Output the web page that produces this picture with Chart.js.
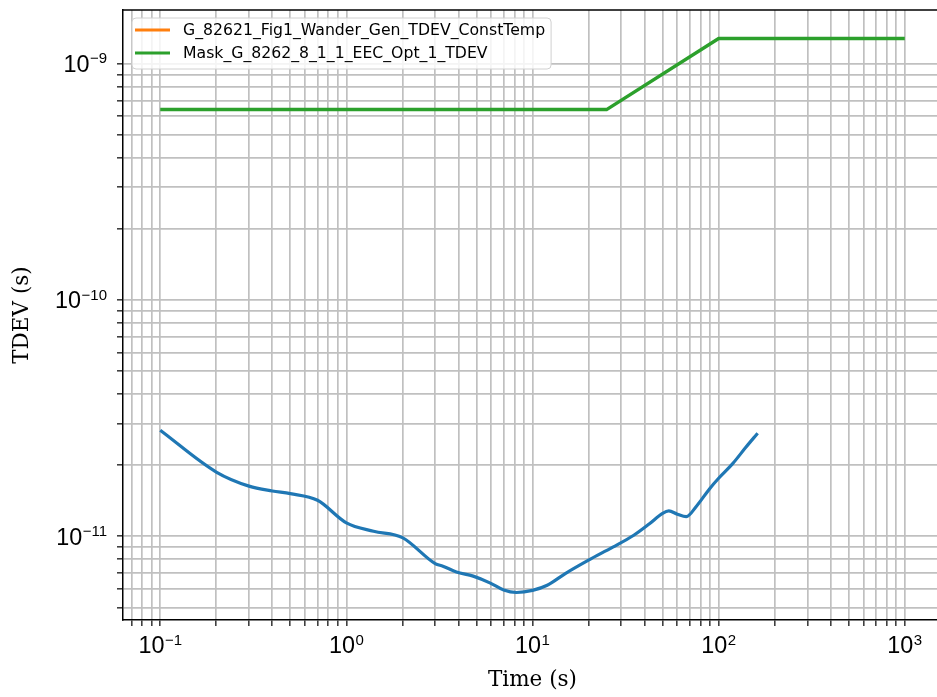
<!DOCTYPE html>
<html><head><meta charset="utf-8">
<script src="https://cdn.jsdelivr.net/npm/chart.js@4"></script>
<style>
html,body{margin:0;padding:0;background:#fff;overflow:hidden;width:937px;height:697px}
#wrap{position:absolute;left:0;top:0;width:1000px;height:697px}
</style>
</head><body>
<div id="wrap"><canvas id="c" width="1000" height="697"></canvas></div>
<script>
// ---- data ----
const tdevTau = [0.1, 0.2, 0.3, 0.4, 0.5, 0.7, 1.0, 1.4, 2.0, 3.0, 3.3, 3.9, 4.8, 5.9, 7.0, 8.2, 10, 12, 15, 20, 27, 35, 42.5, 50, 54, 60, 67, 76, 89.5, 100, 119, 140, 162];
const tdevValues = [2.81e-11, 1.87e-11, 1.63e-11, 1.555e-11, 1.515e-11, 1.42e-11, 1.14e-11, 1.05e-11, 9.87e-12, 7.66e-12, 7.47e-12, 7.06e-12, 6.78e-12, 6.35e-12, 5.92e-12, 5.78e-12, 5.9e-12, 6.2e-12, 6.95e-12, 7.92e-12, 8.99e-12, 1.01e-11, 1.13e-11, 1.25e-11, 1.28e-11, 1.24e-11, 1.21e-11, 1.34e-11, 1.59e-11, 1.76e-11, 2.03e-11, 2.38e-11, 2.73e-11];
const constTempTau = [];
const constTempValues = [];
const maskTau = [0.1, 25, 100, 1000];
const maskValues = [0.64e-9, 0.64e-9, 1.28e-9, 1.28e-9];
const seriesLabels = ['G_82621_Fig1_Wander_Gen_TDEV_ConstTemp', 'Mask_G_8262_8_1_1_EEC_Opt_1_TDEV'];
const xTickExponents = [-1, 0, 1, 2, 3];
const yTickExponents = [-11, -10, -9];
const xTitle = 'Time (s)';
const yTitle = 'TDEV (s)';

const xLimits = [Math.pow(10, -1.2), Math.pow(10, 3.2)];
const yLimits = [4.42e-12, 1.69e-9];

function pts(xs, ys) { return xs.map((x, i) => ({x: x, y: ys[i]})); }

function logTicks(min, max) {
  const out = [];
  const e0 = Math.floor(Math.log10(min)), e1 = Math.ceil(Math.log10(max));
  for (let e = e0; e <= e1; e++) {
    for (let k = 1; k <= 9; k++) {
      const v = Number(k + 'e' + e);
      if (v >= min && v <= max) out.push({value: v, major: k === 1});
    }
  }
  return out;
}

const GRID = '#c0c0c0';

const decor = {
  id: 'decor',
  afterDraw(chart) {
    const ctx = chart.ctx, ca = chart.chartArea;
    const xs = chart.scales.x, ys = chart.scales.y;
    ctx.save();
    ctx.strokeStyle = '#000'; ctx.lineWidth = 1.5;
    ctx.beginPath(); ctx.moveTo(ca.left, ca.top); ctx.lineTo(ca.right, ca.top); ctx.stroke();

    const baseFont = '23.4px "Liberation Sans", Arial, sans-serif';
    const expFont = '15px "Liberation Sans", Arial, sans-serif';
    ctx.fillStyle = '#000';
    ctx.textBaseline = 'alphabetic';
    function measure(e) {
      ctx.font = baseFont; const w1 = ctx.measureText('10').width;
      ctx.font = expFont; const w2 = ctx.measureText(String(e).replace('-', '\u2212')).width;
      return [w1, w2];
    }
    function drawLabel(e, left, cy) {
      const [w1] = measure(e);
      ctx.font = baseFont; ctx.textAlign = 'left';
      ctx.fillText('10', left, cy + 8.4);
      ctx.font = expFont;
      ctx.fillText(String(e).replace('-', '\u2212'), left + w1 + 0.5, cy - 0.5);
    }
    xTickExponents.forEach(e => {
      const px = xs.getPixelForValue(Math.pow(10, e));
      const [w1, w2] = measure(e);
      drawLabel(e, px - (w1 + w2 + 0.5) / 2, 645);
    });
    yTickExponents.forEach(e => {
      const py = ys.getPixelForValue(Math.pow(10, e));
      const [w1, w2] = measure(e);
      drawLabel(e, 107 - (w1 + w2 + 0.5), py);
    });

    // legend
    const lx = ca.left + 9, ly = ca.top + 8;
    ctx.font = '15.7px "DejaVu Sans", sans-serif';
    let tw = 0;
    seriesLabels.forEach(s => { tw = Math.max(tw, ctx.measureText(s).width); });
    const bw = (183 - 132) + tw + 6, bh = 51;
    ctx.beginPath();
    if (ctx.roundRect) ctx.roundRect(lx, ly, bw, bh, 4); else ctx.rect(lx, ly, bw, bh);
    ctx.fillStyle = 'rgba(255,255,255,0.82)'; ctx.fill();
    ctx.strokeStyle = '#d0d0d0'; ctx.lineWidth = 1; ctx.stroke();
    const legendDs = [chart.data.datasets[1], chart.data.datasets[2]];
    legendDs.forEach((ds, i) => {
      const y = ly + 12 + i * 23;
      ctx.strokeStyle = ds.borderColor; ctx.lineWidth = 3;
      ctx.beginPath(); ctx.moveTo(lx + 3, y); ctx.lineTo(lx + 38, y); ctx.stroke();
      ctx.fillStyle = '#000'; ctx.textAlign = 'left'; ctx.textBaseline = 'middle';
      ctx.fillText(ds.label, lx + 51, y + 1);
    });
    ctx.restore();
  }
};

new Chart(document.getElementById('c'), {
  type: 'line',
  data: {
    datasets: [
      { label: '', data: pts(tdevTau, tdevValues), borderColor: '#1f77b4', borderWidth: 3.2, pointRadius: 0, cubicInterpolationMode: 'monotone' },
      { label: seriesLabels[0], data: pts(constTempTau, constTempValues), borderColor: '#ff7f0e', borderWidth: 3.2, pointRadius: 0 },
      { label: seriesLabels[1], data: pts(maskTau, maskValues), borderColor: '#2ca02c', borderWidth: 3.5, pointRadius: 0, tension: 0 }
    ]
  },
  options: {
    responsive: false,
    animation: false,
    devicePixelRatio: 1,
    layout: { padding: { left: 0, top: 10, right: 58, bottom: 0 } },
    plugins: { legend: { display: false }, tooltip: { enabled: false } },
    scales: {
      x: {
        type: 'logarithmic',
        min: xLimits[0], max: xLimits[1],
        afterBuildTicks: s => { s.ticks = logTicks(xLimits[0], xLimits[1]); },
        afterFit: s => { s.height = 77; },
        ticks: { display: false },
        grid: { color: GRID, lineWidth: 1.7, tickColor: '#000', tickLength: 6, tickWidth: 1.2 },
        border: { display: true, color: '#000', width: 1.5 },
        title: { display: true, text: xTitle, font: { family: '"DejaVu Serif", serif', size: 21.5 }, color: '#000', padding: { top: 0, bottom: 4 } }
      },
      y: {
        type: 'logarithmic',
        min: yLimits[0], max: yLimits[1],
        afterBuildTicks: s => { s.ticks = logTicks(yLimits[0], yLimits[1]); },
        afterFit: s => { s.width = 123; },
        ticks: { display: false },
        grid: { color: GRID, lineWidth: 1.7, tickColor: '#000', tickLength: 6, tickWidth: 1.2 },
        border: { display: true, color: '#000', width: 1.5 },
        title: { display: true, text: yTitle, font: { family: '"DejaVu Serif", serif', size: 21.5 }, color: '#000', padding: { top: 10, bottom: 0 } }
      }
    }
  },
  plugins: [decor]
});
</script>
</body></html>
